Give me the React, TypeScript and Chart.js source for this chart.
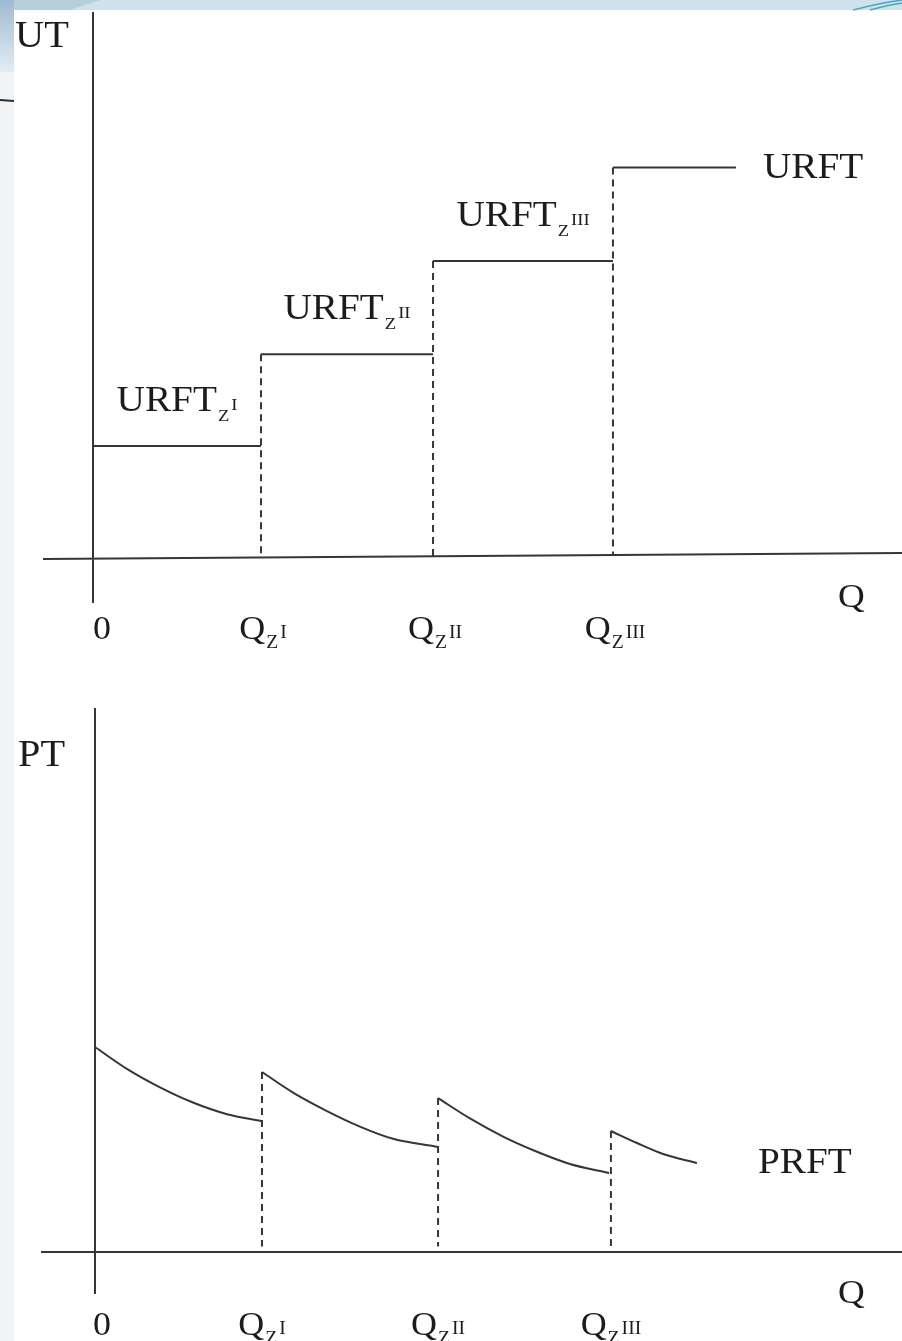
import React, { useEffect, useRef } from "react";
import { Chart, registerables } from "chart.js";

Chart.register(...registerables);

// ---------------- data ----------------
// Upper panel: total price URFT (step function over quantity Q)
const topBreaks = [0, 10, 20.24, 30.95]; // 0, Q_zI, Q_zII, Q_zIII
const topEnd = 38.27;
const urftLevels = [5.95, 10.9, 15.95, 21.0];
const zoneNumerals = ["I", "II", "III"];

// Lower panel: unit price PRFT (decreasing segments)
const bottomBreaks = [0, 9.94, 20.42, 30.71];
const prftX1 = [0, 1.9, 3.87, 5.83, 7.86, 9.94];
const prftY1 = [11.08, 9.9, 8.9, 8.08, 7.45, 7.08];
const prftX2 = [9.94, 11.79, 13.81, 15.77, 17.74, 20.42];
const prftY2 = [9.73, 8.62, 7.62, 6.78, 6.12, 5.68];
const prftX3 = [20.42, 22.32, 24.29, 26.31, 28.27, 30.6];
const prftY3 = [8.32, 7.22, 6.24, 5.42, 4.76, 4.27];
const prftX4 = [30.71, 32.26, 33.81, 35.83];
const prftY4 = [6.54, 5.89, 5.3, 4.81];

// ---------------- styling ----------------
const FONT = '"Liberation Serif", "Times New Roman", serif';
const SX = 1.09;
const LINE = "#363636";
const TEXT = "#1c1c1c";

const zip = (xs: number[], ys: number[]) => xs.map((x, i) => ({ x, y: ys[i] }));

function measure(ctx: CanvasRenderingContext2D, s: string, size: number) {
  ctx.font = `${size}px ${FONT}`;
  return ctx.measureText(s).width * SX;
}
function txt(ctx: CanvasRenderingContext2D, s: string, x: number, y: number, size: number) {
  ctx.save();
  ctx.font = `${size}px ${FONT}`;
  ctx.fillStyle = TEXT;
  ctx.textAlign = "left";
  ctx.textBaseline = "alphabetic";
  ctx.translate(x, y);
  ctx.scale(SX, 1);
  ctx.fillText(s, 0, 0);
  ctx.restore();
  return measure(ctx, s, size);
}
function compoundWidth(ctx: CanvasRenderingContext2D, main: string, sub: string, sup: string, mS: number, sS: number) {
  return measure(ctx, main, mS) + 1 + measure(ctx, sub, sS) + 2 + measure(ctx, sup, sS);
}
function compound(
  ctx: CanvasRenderingContext2D,
  main: string,
  sub: string,
  sup: string,
  center: number,
  base: number,
  mS: number,
  sS: number,
  subDy: number,
  supDy: number
) {
  let x = center - compoundWidth(ctx, main, sub, sup, mS, sS) / 2;
  x += txt(ctx, main, x, base, mS) + 1;
  x += txt(ctx, sub, x, base + subDy, sS) + 2;
  txt(ctx, sup, x, base + supDy, sS);
}

function lineDs(pts: { x: number; y: number }[], dashed = false, curve = false) {
  return {
    data: pts,
    showLine: true,
    borderColor: LINE,
    borderWidth: 2,
    borderDash: dashed ? [7, 5] : [],
    pointRadius: 0,
    pointHoverRadius: 0,
    fill: false,
    tension: curve ? 0.4 : 0,
    cubicInterpolationMode: curve ? "monotone" : "default",
  };
}

const hiddenScales = (xmin: number, xmax: number, ymin: number, ymax: number) => ({
  x: { type: "linear", display: false, min: xmin, max: xmax, bounds: "data" },
  y: { type: "linear", display: false, min: ymin, max: ymax, bounds: "data" },
});

const topPlugin = {
  id: "topPanel",
  beforeDraw(chart: any) {
    const ctx = chart.ctx as CanvasRenderingContext2D;
    const W = chart.width, H = chart.height;
    ctx.save();
    ctx.fillStyle = "#ffffff";
    ctx.fillRect(0, 0, W, H);
    // decorative slide background
    ctx.fillStyle = "#f2f3f4";
    ctx.fillRect(0, 0, 14, H);
    ctx.fillStyle = "#cfe1ea";
    ctx.fillRect(0, 0, W, 10);
    ctx.fillStyle = "#b7cedd";
    ctx.beginPath();
    ctx.moveTo(0, 0);
    ctx.lineTo(100, 0);
    ctx.lineTo(70, 10);
    ctx.lineTo(0, 10);
    ctx.closePath();
    ctx.fill();
    const g = ctx.createLinearGradient(0, 0, 0, 72);
    g.addColorStop(0, "#9fbbd1");
    g.addColorStop(1, "#e3ecf2");
    ctx.fillStyle = g;
    ctx.fillRect(0, 0, 14, 72);
    ctx.strokeStyle = "#1f3148";
    ctx.lineWidth = 2;
    ctx.beginPath();
    ctx.moveTo(0, 100);
    ctx.lineTo(14, 101);
    ctx.stroke();
    ctx.strokeStyle = "#49a6c6";
    ctx.lineWidth = 1.5;
    ctx.beginPath();
    ctx.moveTo(853, 10);
    ctx.quadraticCurveTo(880, 3, 902, 0);
    ctx.stroke();
    ctx.beginPath();
    ctx.moveTo(870, 10);
    ctx.quadraticCurveTo(888, 5, 902, 3);
    ctx.stroke();
    ctx.restore();
  },
  beforeDatasetsDraw(chart: any) {
    const ctx = chart.ctx as CanvasRenderingContext2D;
    const xs = chart.scales.x, ys = chart.scales.y;
    const x0 = xs.getPixelForValue(0), y0 = ys.getPixelForValue(0);
    ctx.save();
    ctx.strokeStyle = LINE;
    ctx.lineWidth = 2;
    ctx.beginPath();
    ctx.moveTo(x0, 12);
    ctx.lineTo(x0, y0 + 47);
    ctx.moveTo(43, y0 + 3);
    ctx.lineTo(chart.width, y0 - 3);
    ctx.stroke();
    ctx.restore();
  },
  afterDraw(chart: any) {
    const ctx = chart.ctx as CanvasRenderingContext2D;
    const xs = chart.scales.x, ys = chart.scales.y;
    const px = (v: number) => xs.getPixelForValue(v);
    const py = (v: number) => ys.getPixelForValue(v);
    txt(ctx, "UT", 15, 47, 37);
    for (let i = 0; i < 3; i++) {
      const c = (px(topBreaks[i]) + px(topBreaks[i + 1])) / 2;
      compound(ctx, "URFT", "Z", zoneNumerals[i], c, py(urftLevels[i]) - 35, 36, 17, 10, -1);
    }
    txt(ctx, "URFT", px(topEnd) + 27, py(urftLevels[3]) + 10, 36);
    const base = py(0) + 83;
    const w0 = measure(ctx, "0", 33);
    txt(ctx, "0", px(0) + 9 - w0 / 2, base, 33);
    for (let i = 1; i < 4; i++) {
      compound(ctx, "Q", "Z", zoneNumerals[i - 1], px(topBreaks[i]) + 2, base, 33, 18, 9, -1);
    }
    txt(ctx, "Q", 838, py(0) + 51, 34);
  },
};

const bottomPlugin = {
  id: "bottomPanel",
  beforeDraw(chart: any) {
    const ctx = chart.ctx as CanvasRenderingContext2D;
    ctx.save();
    ctx.fillStyle = "#ffffff";
    ctx.fillRect(0, 0, chart.width, chart.height);
    ctx.fillStyle = "#f2f3f4";
    ctx.fillRect(0, 0, 14, chart.height);
    ctx.restore();
  },
  beforeDatasetsDraw(chart: any) {
    const ctx = chart.ctx as CanvasRenderingContext2D;
    const xs = chart.scales.x, ys = chart.scales.y;
    const x0 = xs.getPixelForValue(0), y0 = ys.getPixelForValue(0);
    ctx.save();
    ctx.strokeStyle = LINE;
    ctx.lineWidth = 2;
    ctx.beginPath();
    ctx.moveTo(x0, 48);
    ctx.lineTo(x0, y0 + 42);
    ctx.moveTo(41, y0);
    ctx.lineTo(chart.width, y0);
    ctx.stroke();
    ctx.restore();
  },
  afterDraw(chart: any) {
    const ctx = chart.ctx as CanvasRenderingContext2D;
    const xs = chart.scales.x, ys = chart.scales.y;
    const px = (v: number) => xs.getPixelForValue(v);
    const py = (v: number) => ys.getPixelForValue(v);
    txt(ctx, "PT", 18, 106, 37);
    txt(ctx, "PRFT", px(prftX4[prftX4.length - 1]) + 61, py(prftY4[prftY4.length - 1]) + 10, 36);
    const base = py(0) + 83;
    const w0 = measure(ctx, "0", 33);
    txt(ctx, "0", px(0) + 7 - w0 / 2, base, 33);
    for (let i = 1; i < 4; i++) {
      compound(ctx, "Q", "Z", zoneNumerals[i - 1], px(bottomBreaks[i]), base, 33, 18, 9, -1);
    }
    txt(ctx, "Q", 838, py(0) + 51, 34);
  },
};

export default function App() {
  const topRef = useRef<HTMLCanvasElement>(null);
  const botRef = useRef<HTMLCanvasElement>(null);

  useEffect(() => {
    const topDatasets: any[] = [];
    for (let i = 0; i < 4; i++) {
      const xEnd = i < 3 ? topBreaks[i + 1] : topEnd;
      topDatasets.push(lineDs([{ x: topBreaks[i], y: urftLevels[i] }, { x: xEnd, y: urftLevels[i] }]));
    }
    for (let i = 1; i < 4; i++) {
      topDatasets.push(lineDs([{ x: topBreaks[i], y: urftLevels[i] }, { x: topBreaks[i], y: 0 }], true));
    }

    const segs = [
      zip(prftX1, prftY1),
      zip(prftX2, prftY2),
      zip(prftX3, prftY3),
      zip(prftX4, prftY4),
    ];
    const botDatasets: any[] = segs.map((s) => lineDs(s, false, true));
    for (let i = 1; i < 4; i++) {
      botDatasets.push(lineDs([{ x: bottomBreaks[i], y: segs[i][0].y }, { x: bottomBreaks[i], y: 0.3 }], true));
    }

    const common = {
      responsive: false,
      animation: false as const,
      devicePixelRatio: 1,
      layout: { padding: 0 },
      events: [],
      plugins: { legend: { display: false }, tooltip: { enabled: false } },
    };

    const top = new Chart(topRef.current as HTMLCanvasElement, {
      type: "scatter",
      data: { datasets: topDatasets },
      options: { ...common, scales: hiddenScales(-93 / 16.8, 809 / 16.8, -104 / 18.5, 556 / 18.5) } as any,
      plugins: [topPlugin],
    });
    const bottom = new Chart(botRef.current as HTMLCanvasElement, {
      type: "scatter",
      data: { datasets: botDatasets },
      options: { ...common, scales: hiddenScales(-95 / 16.8, 807 / 16.8, -89 / 18.5, 592 / 18.5) } as any,
      plugins: [bottomPlugin],
    });
    return () => {
      top.destroy();
      bottom.destroy();
    };
  }, []);

  return (
    <div style={{ position: "absolute", left: 0, top: 0, width: 902, height: 1341, background: "#fff", overflow: "hidden" }}>
      <canvas ref={topRef} width={902} height={660} style={{ display: "block", width: 902, height: 660 }} />
      <canvas ref={botRef} width={902} height={681} style={{ display: "block", width: 902, height: 681 }} />
    </div>
  );
}
